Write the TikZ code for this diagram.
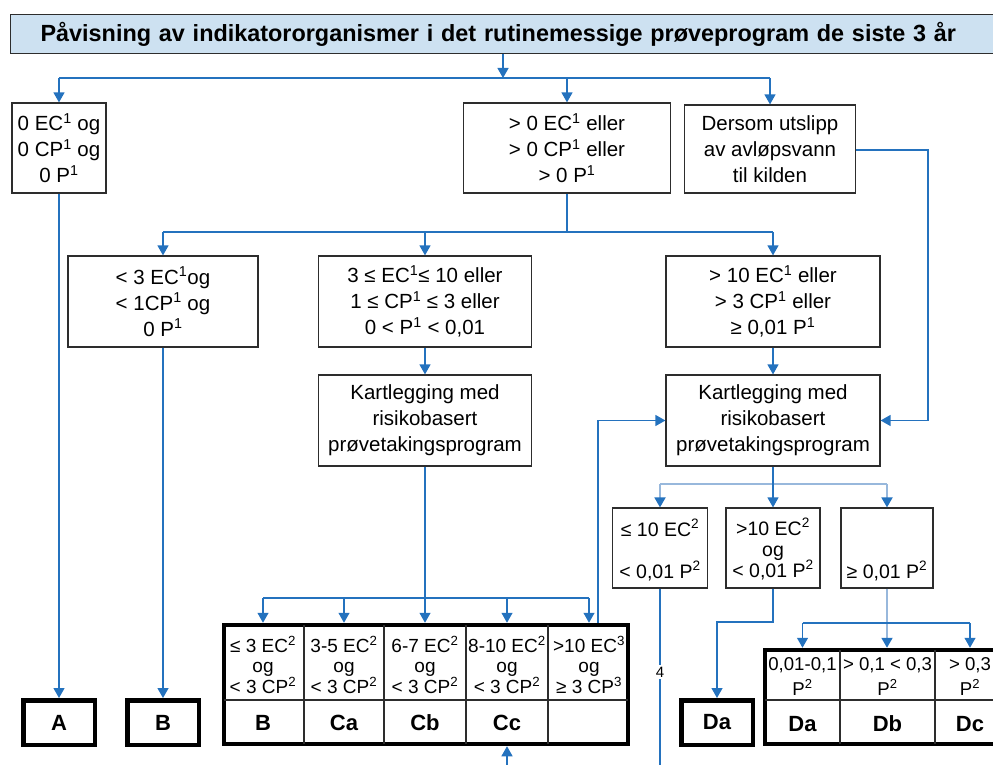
\documentclass[tikz,border=0pt]{standalone}
\usepackage{fontspec}
\setmainfont{Liberation Sans}
\usetikzlibrary{arrows.meta}
\definecolor{lineblue}{RGB}{36,114,190}
\definecolor{lightline}{RGB}{152,184,220}
\definecolor{titlefill}{RGB}{205,225,241}
\definecolor{boxgray}{RGB}{45,45,45}
\newcommand\fsz[2]{\fontsize{#1}{#2}\selectfont}
\newcommand\sups[1]{\textsuperscript{#1}}
\newcommand\tlines[1]{\vtop{\lineskiplimit=-100pt\halign{\hfil##\hfil\cr#1\crcr}}}
\begin{document}
\begin{tikzpicture}[x=1pt,y=-1pt,
  box/.style={draw=boxgray, line width=1.2pt, fill=white, align=center, inner sep=0pt, font=\fsz{20.5}{26}},
  titlebox/.style={draw=boxgray, line width=1.2pt, fill=titlefill, font=\bfseries\fsz{23.4}{28}},
  thickbox/.style={draw=black, line width=4.5pt, fill=white, inner sep=0pt, font=\bfseries\fsz{22}{26}},
  sm/.style={inner sep=0pt, font=\fsz{19.5}{21}},
  hdr/.style={inner sep=0pt, font=\fsz{19}{20.5}},
  hdrb/.style={inner sep=0pt, font=\fsz{18.6}{25}},
  lab/.style={inner sep=0pt, font=\bfseries\fsz{22}{26}},
  grid/.style={draw=boxgray, line width=1.2pt},
  conn/.style={draw=lineblue, line width=1.3pt},
  connL/.style={draw=lightline, line width=1.8pt},
  arr/.style={conn, -{Triangle[width=11pt,length=10pt]}},
  arrL/.style={connL, -{Triangle[width=11pt,length=10pt,color=lineblue]}},
  lbl/.style={fill=white, inner sep=1.5pt, font=\fsz{15}{16}},
]
\useasboundingbox (0,0) rectangle (993,765);
\clip (0,0) rectangle (993,765);

% title
\node[titlebox, anchor=north west, minimum width=1000pt, minimum height=39pt,
      text width=940pt, inner xsep=30pt, align=left] (title) at (10,14)
  {Påvisning av indikatororganismer i det rutinemessige prøveprogram de siste 3 år};

% level 1
\node[box, minimum width=94pt, minimum height=90pt] (b1) at (59,148)
  {0 EC\sups{1} og\\0 CP\sups{1} og\\0 P\sups{1}};
\node[box, minimum width=207pt, minimum height=90pt] (b2) at (567,148)
  {> 0 EC\sups{1} eller\\> 0 CP\sups{1} eller\\> 0 P\sups{1}};
\node[box, minimum width=171pt, minimum height=88pt] (b3) at (770,149)
  {Dersom utslipp\\av avløpsvann\\til kilden};

% level 2
\node[box, minimum width=190pt, minimum height=91pt] (b4) at (163,301.5)
  {< 3 EC\sups{1}og\\< 1CP\sups{1} og\\0 P\sups{1}};
\node[box, minimum width=213pt, minimum height=91pt] (b5) at (425,301.5)
  {3 ≤ EC\sups{1}≤ 10 eller\\1 ≤ CP\sups{1} ≤ 3 eller\\0 < P\sups{1} < 0,01};
\node[box, minimum width=214pt, minimum height=91pt] (b6) at (773,301.5)
  {> 10 EC\sups{1} eller\\> 3 CP\sups{1} eller\\≥ 0,01 P\sups{1}};
\node[box, minimum width=213pt, minimum height=91pt] (k1) at (425,420.5)
  {Kartlegging med\\risikobasert\\prøvetakingsprogram};
\node[box, minimum width=214pt, minimum height=91pt] (k2) at (773,420.5)
  {Kartlegging med\\risikobasert\\prøvetakingsprogram};

% small boxes
\node[box, minimum width=95pt, minimum height=80pt] (b7) at (660,548) {};
\node[sm, anchor=base] (b7t) at (660,536) {\tlines{≤ 10 EC\sups{2}\cr\cr < 0,01 P\sups{2}}};
\node[box, minimum width=94pt, minimum height=80pt] (b8) at (773,548) {};
\node[sm, anchor=base] (b8t) at (773,535) {\tlines{>10 EC\sups{2}\cr og\cr < 0,01 P\sups{2}}};
\node[box, minimum width=92pt, minimum height=80pt] (b9) at (887,548) {};
\node[sm, anchor=base] (b9t) at (887,578) {≥ 0,01 P\sups{2}};

% result boxes
\node[thickbox, minimum width=71.5pt, minimum height=44.5pt] (A) at (59,722.5) {A};
\node[thickbox, minimum width=71.5pt, minimum height=44.5pt] (B) at (163,722.5) {B};
\node[thickbox, minimum width=71.5pt, minimum height=44.5pt] (Da) at (717,722.5) {Da};

% table 1
\node[thickbox, minimum width=404pt, minimum height=119pt] (t1) at (426,684.5) {};
\draw[grid] (304,625) -- (304,744) (384,625) -- (384,744) (466,625) -- (466,744)
            (548,625) -- (548,744) (224,700) -- (628,700);
\node[hdr, anchor=base] (t1a) at (263,652) {\tlines{≤ 3 EC\sups{2}\cr og\cr < 3 CP\sups{2}}};
\node[hdr, anchor=base] (t1b) at (344,652) {\tlines{3-5 EC\sups{2}\cr og\cr < 3 CP\sups{2}}};
\node[hdr, anchor=base] (t1c) at (425,652) {\tlines{6-7 EC\sups{2}\cr og\cr < 3 CP\sups{2}}};
\node[hdr, anchor=base] (t1d) at (507,652) {\tlines{8-10 EC\sups{2}\cr og\cr < 3 CP\sups{2}}};
\node[hdr, anchor=base] (t1e) at (589,652) {\tlines{>10 EC\sups{3}\cr og\cr ≥ 3 CP\sups{3}}};
\node[lab, anchor=base] (t1la) at (263,730) {B};
\node[lab, anchor=base] (t1lb) at (344,730) {Ca};
\node[lab, anchor=base] (t1lc) at (425,730) {Cb};
\node[lab, anchor=base] (t1ld) at (507,730) {Cc};

% table 2
\node[thickbox, minimum width=240pt, minimum height=94pt] (t2) at (885,697) {};
\draw[grid] (840,650) -- (840,744) (935,650) -- (935,744) (765,700) -- (1005,700);
\node[hdrb, anchor=base] (t2a) at (802.5,670) {\tlines{0,01-0,1\cr P\sups{2}}};
\node[hdrb, anchor=base] (t2b) at (887.5,670) {\tlines{> 0,1 < 0,3\cr P\sups{2}}};
\node[hdrb, anchor=base] (t2c) at (970,670) {\tlines{> 0,3\cr P\sups{2}}};
\node[lab, anchor=base] (t2la) at (802.5,731) {Da};
\node[lab, anchor=base] (t2lb) at (887.5,731) {Db};
\node[lab, anchor=base] (t2lc) at (970,731) {Dc};

% junction coordinates
\coordinate (j0) at (503,78);
\coordinate (j1) at (567,232);
\coordinate (j2) at (425,598);
\coordinate (j3) at (773,484);
\coordinate (j4) at (887,623);
\coordinate (m8) at (773,622);
\coordinate (r1) at (928,150);
\coordinate (u1) at (598,622);
\coordinate (bot) at (0,765);

% connectors top
\draw[arr] (title.south -| j0) -- (j0);
\draw[conn] (j0 -| b1) -- (j0 -| b3);
\draw[arr] (j0 -| b1) -- (b1);
\draw[arr] (j0 -| b2) -- (b2);
\draw[arr] (j0 -| b3) -- (b3);

\draw[arr] (b1) -- (A);
\draw[conn] (b2) -- (b2 |- j1);
\draw[conn] (j1 -| b4) -- (j1 -| b6);
\draw[arr] (j1 -| b4) -- (b4);
\draw[arr] (j1 -| b5) -- (b5);
\draw[arr] (j1 -| b6) -- (b6);
\draw[arr] (b4) -- (B);
\draw[arr] (b5) -- (k1);
\draw[arr] (b6) -- (k2);
\draw[arr] (b3.east |- r1) -| (r1 |- k2.east) -- (k2.east);

% table 1 connectors
\draw[conn] (k1) -- (k1 |- j2);
\draw[conn] (j2 -| t1a) -- (j2 -| t1e);
\draw[arr] (j2 -| t1a) -- (t1a |- t1.north);
\draw[arr] (j2 -| t1b) -- (t1b |- t1.north);
\draw[arr] (j2 -| t1c) -- (t1c |- t1.north);
\draw[arr] (j2 -| t1d) -- (t1d |- t1.north);
\draw[arr] (j2 -| t1e) -- (t1e |- t1.north);
\draw[arr] (u1 |- t1.north) |- (k2.west);
\draw[arr] (t1d |- bot) -- (t1d |- t1.south);

% right-hand connectors
\draw[connL] (j3 -| b7) -- (j3 -| b9);
\draw[arrL] (j3 -| b7) -- (b7);
\draw[arrL] (j3 -| b9) -- (b9);
\draw[arr] (k2) -- (b8);
\draw[conn] (b7) -- (b7 |- bot) node[lbl, pos=0.473] (n4) {4};
\draw[arr] (b8) -- (b8 |- m8) -| (Da);
\draw[arrL] (b9) -- (b9 |- t2.north);
\draw[conn] (j4 -| t2a) -- (j4 -| t2c);
\draw[arr] (j4 -| t2a) -- (t2a |- t2.north);
\draw[arr] (j4 -| t2c) -- (t2c |- t2.north);
\end{tikzpicture}
\end{document}
